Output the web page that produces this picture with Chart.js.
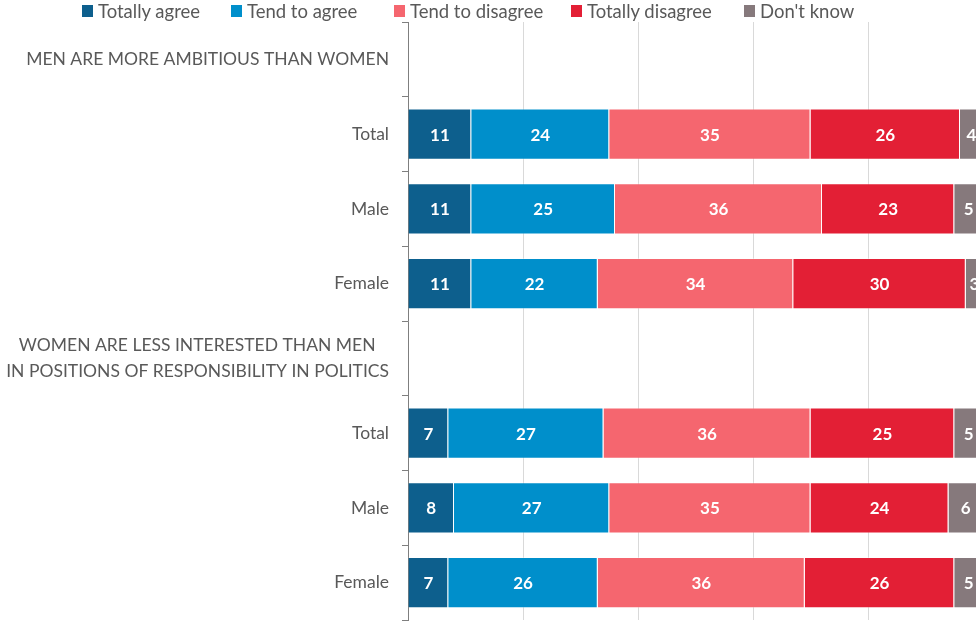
<!DOCTYPE html>
<html>
<head>
<meta charset="utf-8">
<script src="https://cdn.jsdelivr.net/npm/chart.js@4/dist/chart.umd.min.js"></script>
<style>
  html, body { margin: 0; padding: 0; background: #fff; overflow: hidden; width: 976px; height: 622px; }
  #wrap { position: relative; width: 984px; height: 622px; }
  #legend { position: absolute; top: 1px; left: 0; width: 976px; height: 22px; font-family: Lato, sans-serif; font-size: 18.5px; color: #595959; line-height: 20px; z-index: 2; }
  #legend .item { position: absolute; top: 0; display: flex; align-items: center; white-space: nowrap; }
  #legend .sw { width: 11px; height: 12px; margin-right: 5px; }
  canvas { position: absolute; left: 0; top: 0; }
</style>
</head>
<body>
<div id="wrap">
  <div id="legend"></div>
  <canvas id="c" width="984" height="622"></canvas>
</div>
<script>
const categories = [
  "MEN ARE MORE AMBITIOUS THAN WOMEN",
  "Total", "Male", "Female",
  ["WOMEN ARE LESS INTERESTED THAN MEN   ", "IN POSITIONS OF RESPONSIBILITY IN POLITICS"],
  "Total", "Male", "Female"
];
const seriesNames = ["Totally agree", "Tend to agree", "Tend to disagree", "Totally disagree", "Don't know"];
const totallyAgree    = [null, 11, 11, 11, null, 7, 8, 7];
const tendToAgree     = [null, 24, 25, 22, null, 27, 27, 26];
const tendToDisagree  = [null, 35, 36, 34, null, 36, 35, 36];
const totallyDisagree = [null, 26, 23, 30, null, 25, 24, 26];
const dontKnow        = [null, 4, 5, 3, null, 5, 6, 5];
const xTicks = [0, 20, 40, 60, 80, 100];

const colors = ["#0d5f8d", "#008fcb", "#f5666f", "#e31f35", "#86797c"];
const seriesValues = [totallyAgree, tendToAgree, tendToDisagree, totallyDisagree, dontKnow];
const legendLefts = [82, 231, 394, 571, 744];

// HTML legend
const leg = document.getElementById('legend');
seriesNames.forEach((n, i) => {
  const it = document.createElement('div'); it.className = 'item';
  it.style.left = legendLefts[i] + 'px';
  const sw = document.createElement('span'); sw.className = 'sw'; sw.style.background = colors[i];
  const tx = document.createElement('span'); tx.textContent = n;
  it.appendChild(sw); it.appendChild(tx); leg.appendChild(it);
});

const labelPlugin = {
  id: 'segLabels',
  afterDatasetsDraw(chart) {
    const ctx = chart.ctx;
    ctx.save();
    ctx.font = 'bold 17px Lato, sans-serif';
    ctx.fillStyle = '#ffffff';
    ctx.textAlign = 'center';
    ctx.textBaseline = 'middle';
    chart.data.datasets.forEach((ds, di) => {
      const meta = chart.getDatasetMeta(di);
      meta.data.forEach((el, i) => {
        const v = ds.data[i];
        if (v === null || v === undefined) return;
        const p = el.getCenterPoint();
        ctx.fillText(String(v), p.x, p.y + 1);
      });
    });
    ctx.restore();
  }
};

new Chart(document.getElementById('c'), {
  type: 'bar',
  data: {
    labels: categories,
    datasets: seriesNames.map((n, i) => ({
      label: n,
      data: seriesValues[i],
      backgroundColor: colors[i],
      borderColor: 'rgba(255,255,255,0.35)',
      borderWidth: 1,
      categoryPercentage: 1,
      barPercentage: 0.685
    }))
  },
  options: {
    indexAxis: 'y',
    responsive: false,
    animation: false,
    layout: { padding: { top: 22, bottom: 2, left: 0, right: 1 } },
    plugins: { legend: { display: false }, tooltip: { enabled: false } },
    scales: {
      x: {
        stacked: true, min: 0, max: 100,
        afterBuildTicks(scale) { scale.ticks = xTicks.map(v => ({ value: v })); },
        afterFit(scale) { scale.height = 0; scale.paddingLeft = 0; scale.paddingRight = 0; },
        ticks: { display: false },
        grid: { color: '#d9d9d9', drawTicks: false, lineWidth: 1 },
        border: { display: false }
      },
      y: {
        stacked: true,
        afterFit(scale) { scale.width = 408; scale.paddingTop = 0; scale.paddingBottom = 0; },
        ticks: { color: '#595959', font: { family: 'Lato, sans-serif', size: 17.5, lineHeight: 1.5 }, padding: 13, autoSkip: false },
        grid: { drawOnChartArea: false, tickLength: 6, color: '#7f7f7f' },
        border: { color: '#7f7f7f', width: 1 }
      }
    }
  },
  plugins: [labelPlugin]
});
</script>
</body>
</html>
